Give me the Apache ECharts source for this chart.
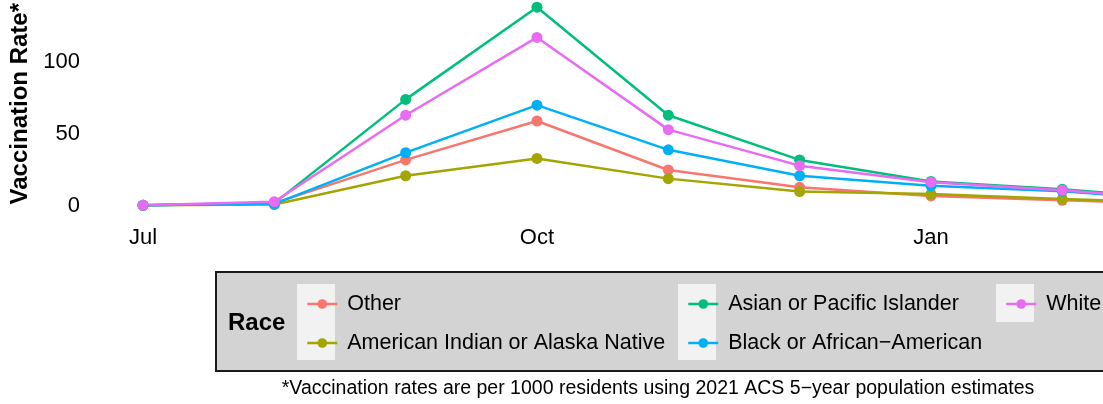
<!DOCTYPE html>
<html>
<head>
<meta charset="utf-8">
<script src="https://cdn.jsdelivr.net/npm/echarts@6/dist/echarts.min.js"></script>
<style>
  html, body { margin: 0; padding: 0; background: #fff; }
  #chart { width: 1103px; height: 404px; }
</style>
</head>
<body>
<div id="chart"></div>
<script>
// months; the x axis is cut at the right edge, so Mar sits just off the picture
const months = ['Jul', 'Aug', 'Sep', 'Oct', 'Nov', 'Dec', 'Jan', 'Feb', 'Mar'];

// vaccination rate per 1000 residents
const other     = [0.5, 2.0, 32, 59, 25, 13, 7.0, 4.0, 1.0];
const aian      = [0.5, 1.0, 21, 33, 19, 10, 8.3, 4.8, 2.0];
const asian     = [0.5, 2.0, 74, 138, 63, 32, 17, 11.7, 4.0];
const black     = [0.5, 1.5, 37, 70, 39, 21, 14, 10.3, 3.5];
const white     = [0.5, 3.0, 63, 117, 53, 28, 16.5, 11, 3.5];

const seriesNames = ['Other', 'American Indian or Alaska Native', 'Asian or Pacific Islander',
    'Black or African\u2212American', 'White'];
const seriesValues = [other, aian, asian, black, white];
const colors = ['#F8766D', '#A3A500', '#00BF7D', '#00B0F6', '#E76BF3'];

const FONT = '"Liberation Sans", Arial, sans-serif';

const chart = echarts.init(document.getElementById('chart'));

function legendAt(left, names) {
    return {
        orient: 'vertical',
        left: left,
        top: 288,
        data: names,
        itemWidth: 30,
        itemHeight: 12,
        itemGap: 17,
        selectedMode: false,
        lineStyle: { width: 2.5 },
        textStyle: {
            fontFamily: FONT,
            fontSize: 21.5,
            lineHeight: 20,
            color: '#000',
            padding: [0, 0, 0, 5]
        }
    };
}

const option = {
    animation: false,
    color: colors,
    textStyle: { fontFamily: FONT },
    grid: {
        left: 143,
        right: 0,
        top: 0,
        bottom: 198,
        containLabel: false
    },
    xAxis: {
        type: 'value',
        min: 0,
        max: 7.31,
        interval: 3,
        axisLine: { show: false },
        axisTick: { show: false },
        splitLine: { show: false },
        axisLabel: {
            margin: 21,
            showMaxLabel: false,
            fontFamily: FONT,
            fontSize: 22,
            color: '#000',
            formatter: function (v) { return months[v] || ''; }
        }
    },
    yAxis: {
        type: 'value',
        min: 0,
        max: 142,
        interval: 50,
        name: 'Vaccination Rate*',
        nameLocation: 'middle',
        nameGap: 108,
        nameRotate: 90,
        nameTextStyle: {
            fontFamily: FONT,
            fontSize: 24,
            fontWeight: 'bold',
            color: '#000'
        },
        axisLine: { show: false },
        axisTick: { show: false },
        splitLine: { show: false },
        axisLabel: {
            margin: 63,
            showMaxLabel: false,
            fontFamily: FONT,
            fontSize: 22,
            color: '#000'
        }
    },
    legend: [
        legendAt(301, [seriesNames[0], seriesNames[1]]),
        legendAt(682, [seriesNames[2], seriesNames[3]]),
        legendAt(1000, [seriesNames[4]])
    ],
    graphic: [
        // legend box
        {
            type: 'rect',
            z: -10,
            shape: { x: 216, y: 272, width: 920, height: 99 },
            style: { fill: '#D3D3D3', stroke: '#1a1a1a', lineWidth: 2 }
        },
        // key backgrounds
        { type: 'rect', z: -9, shape: { x: 297, y: 284, width: 38, height: 76 }, style: { fill: '#F2F2F2' } },
        { type: 'rect', z: -9, shape: { x: 678, y: 284, width: 38, height: 76 }, style: { fill: '#F2F2F2' } },
        { type: 'rect', z: -9, shape: { x: 996, y: 284, width: 38, height: 38 }, style: { fill: '#F2F2F2' } },
        {
            type: 'text',
            left: 228,
            top: 311,
            style: {
                text: 'Race',
                fontFamily: FONT,
                fontSize: 24,
                fontWeight: 'bold',
                fill: '#000'
            }
        },
        {
            type: 'text',
            x: 658,
            y: 389,
            style: {
                text: '*Vaccination rates are per 1000 residents using 2021 ACS 5\u2212year population estimates',
                fontFamily: FONT,
                fontSize: 19.5,
                fill: '#000',
                textAlign: 'center',
                textVerticalAlign: 'middle'
            }
        }
    ],
    series: seriesNames.map(function (name, i) {
        return {
            name: name,
            type: 'line',
            data: seriesValues[i].map(function (v, j) { return [j, v]; }),
            symbol: 'circle',
            symbolSize: 11,
            clip: false,
            lineStyle: { width: 2.5, color: colors[i] },
            itemStyle: { color: colors[i] },
            emphasis: { disabled: true }
        };
    })
};

chart.setOption(option);
</script>
</body>
</html>
